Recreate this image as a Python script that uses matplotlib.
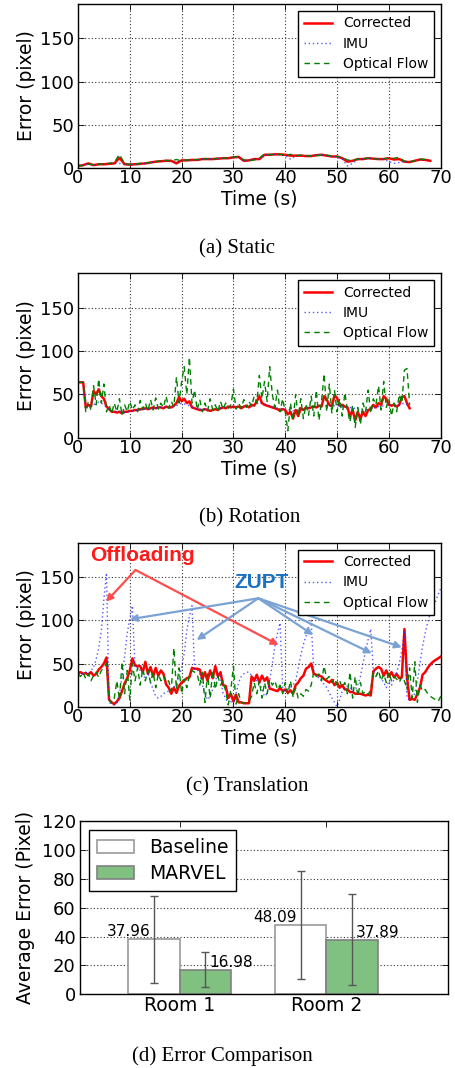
import numpy as np
import matplotlib
matplotlib.use('Agg')
import matplotlib.pyplot as plt

# ---------------- data ----------------
# (a) Static, sampled every 1 s
t_a = np.arange(69) * 1.0
corr_a = [2, 3, 5, 3, 4, 4, 4.5, 5, 11.5, 4,
          3.5, 4, 4.5, 5, 6, 7, 7.5, 8, 8, 5,
          8.5, 8.5, 9, 9, 10, 10, 10, 10.5, 11, 11,
          12, 12.5, 8, 8.5, 10, 10, 15, 15, 15.5, 15.5,
          15, 14, 14, 14, 13.5, 13.5, 14.5, 15, 14, 13,
          13, 11, 7, 8, 10, 10, 11, 10.5, 10, 10,
          11, 9.5, 10, 7, 6.5, 8, 9.5, 9, 8]
imu_a = [2, 3, 4.5, 3, 4, 4, 4.5, 5, 5, 4,
         3.5, 4, 4.5, 5, 6, 7, 7.5, 8, 7, 6,
         8.5, 8.5, 9, 9, 10, 10, 10, 10.5, 11, 11.5,
         12, 12.5, 8.5, 8.5, 10, 10.5, 15, 15.5, 15.5, 15,
         14.5, 10, 13.5, 14, 13.5, 14, 14.5, 15, 14, 13,
         12.5, 10, 2, 5, 9.5, 10, 11, 10.5, 10, 10,
         7, 5, 6, 7, 6.5, 8, 9, 9, 8]
of_a = [2, 2.5, 4, 3.5, 4, 4.5, 5, 6, 15.5, 4.5,
        4, 4, 5, 5.5, 6, 7, 8, 8.5, 8, 9.5,
        8, 9, 9, 9.5, 10, 10.5, 10, 11, 11, 11.5,
        12.5, 13, 9, 8, 9, 11, 16, 15, 15.5, 15.5,
        14.5, 15.5, 14, 14.5, 14, 13.5, 14, 15, 14.5, 13.5,
        13, 12, 9, 8.5, 10, 10.5, 11, 10.5, 10, 10.5,
        11, 11, 12, 7.5, 7, 8, 10, 9.5, 8.5]

# (b) Rotation, sampled every 0.5 s
t_b = np.arange(129) * 0.5
corr_b = [64, 64, 64, 35, 38, 36, 54, 50, 56, 48,
          45, 36, 33, 30, 30, 29, 30, 28, 30, 30,
          31, 31, 32, 32, 33, 33, 34, 33, 34, 35,
          34, 35, 35, 34, 36, 35, 35, 37, 40, 47,
          42, 45, 40, 42, 35, 34, 33, 32, 32, 33,
          32, 31, 32, 33, 32, 34, 35, 34, 36, 35,
          36, 35, 36, 34, 36, 37, 35, 38, 37, 42,
          48, 40, 38, 37, 36, 35, 34, 33, 31, 33,
          32, 27, 30, 22, 32, 25, 34, 32, 35, 34,
          35, 36, 35, 37, 36, 48, 44, 38, 36, 49,
          46, 37, 38, 36, 35, 25, 32, 20, 30, 22,
          30, 25, 32, 33, 38, 35, 40, 38, 48, 45,
          38, 37, 38, 36, 38, 47, 48, 40, 34]
imu_b = [64, 64, 64, 33, 36, 37, 38, 40, 41, 40,
         38, 35, 32, 31, 31, 30, 30, 30, 29, 30,
         30, 31, 31, 32, 32, 33, 33, 33, 34, 34,
         34, 35, 35, 35, 35, 35, 36, 36, 37, 38,
         40, 39, 38, 37, 35, 34, 33, 33, 33, 33,
         33, 33, 33, 34, 34, 34, 35, 35, 35, 36,
         36, 36, 36, 36, 36, 36, 37, 37, 38, 39,
         41, 40, 39, 38, 37, 36, 35, 34, 34, 33,
         33, 32, 32, 31, 32, 32, 33, 33, 34, 35,
         35, 36, 36, 36, 37, 37, 37, 37, 37, 37,
         37, 37, 36, 36, 35, 35, 34, 34, 33, 33,
         32, 32, 33, 33, 34, 35, 36, 36, 37, 37,
         38, 38, 37, 37, 38, 39, 40, 38, 36]
of_b = [64, 64, 64, 30, 42, 32, 60, 38, 68, 40,
        62, 30, 38, 28, 40, 30, 45, 26, 38, 30,
        42, 32, 38, 30, 43, 33, 40, 31, 44, 32,
        46, 33, 40, 35, 48, 34, 42, 36, 70, 40,
        65, 82, 50, 93, 40, 55, 32, 44, 30, 40,
        31, 45, 32, 38, 30, 42, 33, 40, 34, 38,
        56, 33, 40, 34, 44, 35, 42, 36, 48, 40,
        72, 45, 65, 42, 82, 50, 35, 55, 30, 45,
        30, 8, 40, 20, 50, 25, 45, 22, 38, 26,
        48, 25, 55, 20, 42, 74, 30, 62, 28, 55,
        30, 45, 25, 52, 32, 18, 38, 12, 35, 15,
        40, 30, 55, 28, 45, 38, 60, 32, 65, 35,
        45, 25, 40, 30, 50, 40, 78, 80, 38]

# (c) Translation, sampled every 0.5 s
t_c = np.arange(141) * 0.5
corr_c = [39, 40, 38, 39, 37, 40, 36, 38, 43, 46,
          50, 57, 8, 5, 3, 6, 10, 18, 27, 33,
          42, 56, 48, 47, 47, 40, 52, 38, 46, 35,
          45, 36, 42, 38, 26, 22, 15, 22, 16, 24,
          28, 30, 33, 34, 45, 44, 44, 43, 32, 40,
          30, 42, 33, 47, 35, 40, 25, 24, 10, 15,
          6, 14, 5, 5, 4, 4, 4, 35, 30, 37,
          28, 36, 30, 34, 21, 20, 19, 18, 22, 18,
          20, 16, 19, 15, 25, 28, 33, 36, 44, 46,
          50, 38, 37, 36, 35, 32, 30, 28, 31, 25,
          28, 22, 25, 20, 20, 17, 17, 15, 15, 15,
          14, 13, 14, 13, 41, 44, 46, 44, 36, 42,
          35, 40, 34, 38, 33, 34, 90, 34, 8, 9,
          8, 15, 22, 37, 40, 45, 49, 52, 54, 56,
          58]
imu_c = [38, 39, 38, 40, 38, 42, 45, 55, 68, 88,
         125, 155, 5, 3, 2, 5, 15, 35, 58, 85,
         102, 117, 45, 46, 42, 38, 32, 40, 28, 20,
         12, 10, 12, 15, 17, 18, 20, 22, 28, 35,
         45, 62, 88, 105, 117, 44, 43, 38, 25, 15,
         8, 12, 20, 30, 38, 35, 15, 10, 3, 6,
         2, 15, 28, 35, 38, 40, 40, 36, 32, 30,
         28, 20, 12, 15, 30, 50, 70, 85, 97, 20,
         18, 20, 22, 25, 30, 45, 60, 72, 82, 92,
         100, 40, 36, 33, 30, 26, 22, 16, 10, 5,
         0, 8, 18, 22, 24, 22, 18, 20, 25, 35,
         50, 65, 78, 90, 42, 38, 36, 33, 28, 22,
         30, 25, 32, 40, 50, 65, 88, 10, 8, 12,
         15, 30, 50, 70, 85, 98, 108, 115, 122, 130,
         137]
of_c = [38, 35, 40, 32, 38, 30, 36, 40, 34, 42,
        45, 50, 8, 4, 10, 30, 8, 52, 15, 42,
        8, 50, 30, 45, 25, 44, 30, 42, 28, 40,
        22, 38, 30, 36, 28, 30, 18, 68, 20, 45,
        15, 32, 22, 36, 42, 40, 38, 25, 40, 5,
        38, 10, 42, 20, 35, 25, 30, 18, 2, 20,
        47, 3, 15, 5, 4, 5, 6, 12, 28, 15,
        30, 10, 28, 15, 32, 25, 30, 20, 25, 15,
        28, 15, 30, 12, 22, 10, 15, 12, 20, 18,
        25, 40, 35, 38, 30, 47, 32, 35, 28, 33,
        25, 30, 22, 28, 15, 40, 10, 35, 12, 28,
        15, 18, 14, 20, 40, 35, 42, 30, 38, 28,
        40, 30, 35, 32, 28, 35, 30, 20, 45, 10,
        52, 5, 25, 18, 20, 15, 12, 10, 8, 6,
        12]

series_labels = ['Corrected', 'IMU', 'Optical Flow']

# annotations of panel (c)
offload_origin = (11.1, 158.4)
offload_tips = [(5.4, 121.6), (38.7, 71.5)]
zupt_origin = (34.8, 125.6)
zupt_tips = [(10.0, 101.2), (22.9, 77.3), (45.4, 83.1), (56.7, 61.8), (62.5, 68.8)]

# (d) Error comparison
rooms = ['Room 1', 'Room 2']
baseline = [37.96, 48.09]
marvel = [16.98, 37.89]
baseline_err = [29.8, 37.2]
marvel_err = [12.0, 31.7]

# ---------------- style ----------------
plt.rcParams.update({
    'font.family': ['DejaVu Sans'],
    'xtick.direction': 'in', 'ytick.direction': 'in',
    'xtick.top': True, 'ytick.right': True,
    'xtick.major.size': 4, 'ytick.major.size': 4,
    'xtick.major.width': 0.6, 'ytick.major.width': 0.6,
    'axes.linewidth': 1.0,
    'grid.color': '0.2', 'grid.linestyle': (0, (1, 2)), 'grid.linewidth': 0.8,
    'xtick.labelsize': 13, 'ytick.labelsize': 13,
    'axes.labelsize': 13.5,
    'xtick.major.pad': 1.0, 'ytick.major.pad': 3.0,
})

W, H = 456, 1068
fig = plt.figure(figsize=(W / 100, H / 100), dpi=100)
fig.patch.set_facecolor('white')


def px_axes(l, t, r, b):
    return fig.add_axes([l / W, 1 - b / H, (r - l) / W, (b - t) / H])


def time_panel(rect, t, corr, imu, of):
    ax = px_axes(*rect)
    ax.plot(t, corr, color='#ff0000', lw=1.8, label=series_labels[0])
    ax.plot(t, imu, color='#2020ff', lw=1.0, ls=(0, (1, 2)), alpha=0.75, label=series_labels[1])
    ax.plot(t, of, color='#008000', lw=1.0, ls=(0, (4, 3)), label=series_labels[2])
    ax.set_xlim(0, 70)
    ax.set_ylim(0, 190)
    ax.set_xticks(range(0, 71, 10))
    ax.set_yticks([0, 50, 100, 150])
    ax.grid(True)
    ax.set_xlabel('Time (s)', labelpad=2)
    ax.set_ylabel('Error (pixel)', labelpad=3)
    leg = ax.legend(loc='upper right', fontsize=10, fancybox=False, framealpha=1,
                    edgecolor='black', borderaxespad=0.5, labelspacing=0.45,
                    handlelength=2.0, handletextpad=0.8, borderpad=0.4)
    leg.get_frame().set_linewidth(1.0)
    return ax


ax_a = time_panel((78, 4, 440.7, 167.7), t_a, corr_a, imu_a, of_a)
ax_b = time_panel((78, 273.3, 440.7, 437.7), t_b, corr_b, imu_b, of_b)
ax_c = time_panel((78, 542.7, 440.7, 706.7), t_c, corr_c, imu_c, of_c)

# annotations on (c)
red_arrow = dict(arrowstyle='-|>', color='#ff4d4d', lw=1.6, mutation_scale=10,
                 shrinkA=0, shrinkB=0)
for tip in offload_tips:
    ax_c.annotate('', xy=tip, xytext=offload_origin, arrowprops=red_arrow)
blue_arrow = dict(arrowstyle='-|>', color='#7aa3d4', lw=1.6, mutation_scale=10,
                  shrinkA=0, shrinkB=0)
for tip in zupt_tips:
    ax_c.annotate('', xy=tip, xytext=zupt_origin, arrowprops=blue_arrow)
ax_c.text(12.45, 175.7, 'Offloading', color='#ff1a1a', fontsize=15, fontweight='bold',
          family='Liberation Sans', ha='center', va='center')
ax_c.text(35.4, 143.6, 'ZUPT', color='#1a72c0', fontsize=15, fontweight='bold',
          family='Liberation Sans', ha='center', va='center')

# (d) bars
ax_d = px_axes(80, 821, 448, 994.3)
ind = np.arange(len(rooms))
w = 0.35
ekw = dict(ecolor='#555555', capsize=3, elinewidth=1, capthick=1)
ax_d.bar(ind - w, baseline, w, align='edge', color='white', edgecolor='#999999',
         lw=1.2, yerr=baseline_err, error_kw=ekw, label='Baseline')
ax_d.bar(ind, marvel, w, align='edge', color='#80c080', edgecolor='#808080',
         lw=1.2, yerr=marvel_err, error_kw=ekw, label='MARVEL')
for i in range(len(rooms)):
    ax_d.text(ind[i] - w, baseline[i], f'{baseline[i]:.2f}', ha='center', va='bottom', fontsize=11)
    ax_d.text(ind[i] + w, marvel[i], f'{marvel[i]:.2f}', ha='center', va='bottom', fontsize=11)
ax_d.set_xlim(-0.68, 1.83)
ax_d.set_ylim(0, 120)
ax_d.set_yticks(range(0, 121, 20))
ax_d.set_xticks(ind)
ax_d.set_xticklabels(rooms, fontsize=13.5)
ax_d.yaxis.grid(True)
ax_d.set_axisbelow(True)
ax_d.set_ylabel('Average Error (Pixel)', labelpad=5)
leg = ax_d.legend(loc='upper left', fontsize=13.5, fancybox=False, framealpha=1,
                  edgecolor='black', borderaxespad=0.5, labelspacing=0.4,
                  handlelength=2.0, handletextpad=0.8, borderpad=0.4)
leg.get_frame().set_linewidth(1.0)

# captions
cap_kw = dict(family='Liberation Serif', fontsize=15, ha='center', va='baseline')
fig.text(237 / W, 1 - 253.3 / H, '(a) Static', **cap_kw)
fig.text(250 / W, 1 - 522.3 / H, '(b) Rotation', **cap_kw)
fig.text(247 / W, 1 - 791 / H, '(c) Translation', **cap_kw)
fig.text(222 / W, 1 - 1060.7 / H, '(d) Error Comparison', **cap_kw)

fig.savefig('out.png', dpi=100, facecolor='white')
